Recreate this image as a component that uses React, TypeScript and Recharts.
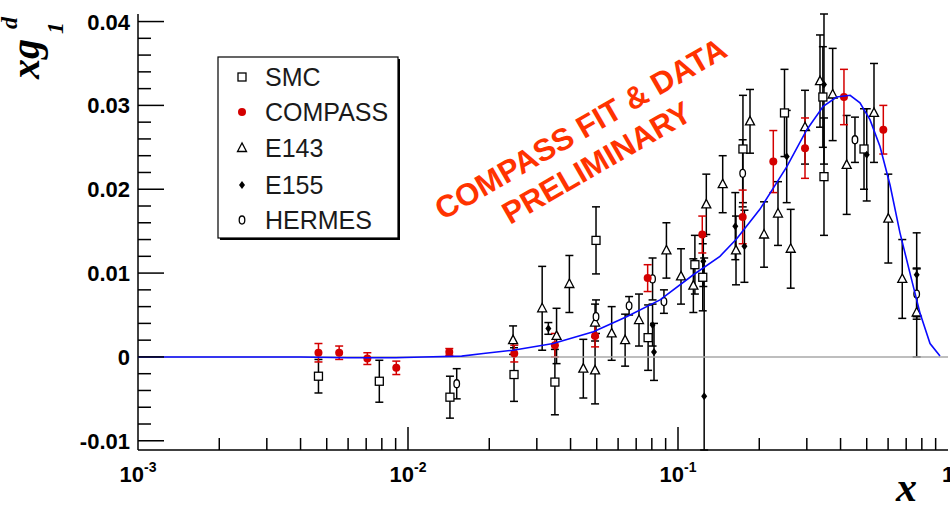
import React from 'react';
import { ScatterChart, Scatter, XAxis, YAxis, ErrorBar } from 'recharts';

// ---------- axes ----------
const X_DOMAIN: [number, number] = [0.001, 1];
const Y_DOMAIN: [number, number] = [-0.0111, 0.0409];
const X_MAJOR_TICKS = [0.001, 0.01, 0.1, 1];
const X_TICK_BASE = ['10', '10', '10', '1'];
const X_TICK_EXP = ['-3', '-2', '-1', ''];
const X_MINOR_TICKS = [
  0.002, 0.003, 0.004, 0.005, 0.006, 0.007, 0.008, 0.009,
  0.02, 0.03, 0.04, 0.05, 0.06, 0.07, 0.08, 0.09,
  0.2, 0.3, 0.4, 0.5, 0.6, 0.7, 0.8, 0.9,
];
const Y_MAJOR_TICKS = [-0.01, 0, 0.01, 0.02, 0.03, 0.04];
const Y_TICK_LABELS = ['-0.01', '0', '0.01', '0.02', '0.03', '0.04'];
const Y_MINOR_TICKS = [
  -0.008, -0.006, -0.004, -0.002,
  0.002, 0.004, 0.006, 0.008,
  0.012, 0.014, 0.016, 0.018,
  0.022, 0.024, 0.026, 0.028,
  0.032, 0.034, 0.036, 0.038,
];

// ---------- data: [x, xg1d, error (lower), error upper if different] ----------
const SMC = [
  [0.00466, -0.0023, 0.002],
  [0.00783, -0.0029, 0.0025],
  [0.0143, -0.0048, 0.0025],
  [0.0247, -0.0021, 0.0032],
  [0.035, -0.003, 0.0039],
  [0.0497, 0.0139, 0.004],
  [0.0775, 0.0023, 0.0039],
  [0.1155, 0.011, 0.0035],
  [0.1235, 0.0095, 0.004],
  [0.174, 0.0248, 0.0064],
  [0.248, 0.0291, 0.0052],
  [0.344, 0.031, 0.006],
  [0.3473, 0.0215, 0.007],
  [0.4886, 0.0248, 0.0048],
];

const COMPASS = [
  [0.00466, 0.0005, 0.0011],
  [0.00556, 0.0005, 0.0008],
  [0.00707, -0.0002, 0.0007],
  [0.00905, -0.0013, 0.0008],
  [0.01422, 0.0006, 0.0004],
  [0.02475, 0.0004, 0.001],
  [0.035, 0.0014, 0.0014],
  [0.0493, 0.0025, 0.0013],
  [0.0772, 0.0094, 0.0016],
  [0.123, 0.0146, 0.0022],
  [0.1736, 0.0167, 0.0032],
  [0.2254, 0.0233, 0.0037],
  [0.2954, 0.0249, 0.0036],
  [0.4118, 0.031, 0.0033],
  [0.576, 0.0271, 0.0029],
];

const E143 = [
  [0.0245, 0.002, 0.0017],
  [0.0314, 0.0058, 0.005],
  [0.0355, 0.0025, 0.0033],
  [0.0396, 0.0087, 0.0034],
  [0.0446, -0.0014, 0.0035],
  [0.0493, -0.0016, 0.004],
  [0.0493, 0.0041, 0.0022],
  [0.0568, 0.0028, 0.0032],
  [0.0637, 0.002, 0.0031],
  [0.0717, 0.0044, 0.0031],
  [0.0906, 0.0127, 0.0033],
  [0.1026, 0.0096, 0.0033],
  [0.114, 0.0085, 0.0032],
  [0.1273, 0.0182, 0.0036],
  [0.1464, 0.0206, 0.0034],
  [0.164, 0.0127, 0.0041],
  [0.1848, 0.0281, 0.0038],
  [0.2083, 0.0146, 0.0039],
  [0.2346, 0.0171, 0.0038],
  [0.2615, 0.0129, 0.0047],
  [0.2954, 0.0274, 0.0044],
  [0.3357, 0.0329, 0.0055],
  [0.374, 0.0313, 0.0055],
  [0.4215, 0.0229, 0.0059],
  [0.532, 0.0291, 0.0059],
  [0.601, 0.0165, 0.0053],
  [0.677, 0.0093, 0.0047],
  [0.7656, 0.0053, 0.0053],
];

const E155 = [
  [0.0331, 0.0034, 0.0007],
  [0.0815, 0.0006, 0.0034],
  [0.0805, 0.0038, 0.0025],
  [0.125, -0.0047, 0.0064, 0.0165],
  [0.1241, 0.0114, 0.003],
  [0.163, 0.0156, 0.004],
  [0.1762, 0.0132, 0.0043],
  [0.2527, 0.0239, 0.0055],
  [0.3473, 0.0325, 0.0095, 0.0084],
  [0.5, 0.0241, 0.0055],
  [0.7656, 0.0098, 0.005],
];

const HERMES = [
  [0.01515, -0.0032, 0.0018],
  [0.0497, 0.0048, 0.002],
  [0.0659, 0.0061, 0.0011],
  [0.0805, 0.0093, 0.0025],
  [0.0887, 0.0066, 0.0014],
  [0.1736, 0.0219, 0.004],
  [0.4523, 0.0259, 0.0027],
  [0.7656, 0.0075, 0.003],
];

// fit curve: [x, xg1d]
const FIT = [
  [0.001, 0], [0.002, 0], [0.004, 0], [0.006, -0.0001], [0.009, -0.0001],
  [0.0114, 0], [0.0158, 0.0001], [0.019, 0.0004], [0.0245, 0.0008],
  [0.0345, 0.0016], [0.0486, 0.003], [0.0645, 0.0048], [0.0858, 0.0068],
  [0.114, 0.0098], [0.143, 0.012], [0.165, 0.0141], [0.201, 0.0176],
  [0.253, 0.0227], [0.3, 0.0271], [0.345, 0.0299], [0.387, 0.031],
  [0.434, 0.0312], [0.472, 0.0303], [0.514, 0.0283], [0.56, 0.0251],
  [0.61, 0.0205], [0.664, 0.0148], [0.723, 0.01], [0.788, 0.0052],
  [0.858, 0.0016], [0.934, 0.0001],
];
const ZERO_LINE = [[0.001, 0], [1, 0]];

const LEGEND_NAMES = ['SMC', 'COMPASS', 'E143', 'E155', 'HERMES'];

const toRows = (arr: number[][]) =>
  arr.map(([x, y, lo, hi]) => ({
    x,
    y,
    e: hi !== undefined ? [lo, hi] : lo ?? 0,
  }));

// ---------- markers ----------
const SquareM = ({ cx, cy }: any) => (
  <rect x={cx - 4} y={cy - 4} width={8} height={8} fill="#fff" stroke="#000" strokeWidth={1.3} />
);
const CircleM = ({ cx, cy }: any) => <circle cx={cx} cy={cy} r={4} fill="#d40000" />;
const TriM = ({ cx, cy }: any) => (
  <polygon
    points={`${cx},${cy - 5} ${cx - 4.5},${cy + 3.5} ${cx + 4.5},${cy + 3.5}`}
    fill="#fff"
    stroke="#000"
    strokeWidth={1.3}
  />
);
const DiamondM = ({ cx, cy }: any) => (
  <polygon points={`${cx},${cy - 4} ${cx + 3},${cy} ${cx},${cy + 4} ${cx - 3},${cy}`} fill="#000" />
);
const OvalM = ({ cx, cy }: any) => (
  <ellipse cx={cx} cy={cy} rx={2.8} ry={4} fill="#fff" stroke="#000" strokeWidth={1.3} />
);
const NoM = () => <g />;

const TICK_FONT = '"Liberation Sans", Arial, sans-serif';

const XTick = (props: any) => {
  const { x, y, payload } = props;
  const v = payload.value;
  const mi = X_MAJOR_TICKS.findIndex((t) => Math.abs(t - v) < 1e-9);
  const inner = mi === 1 || mi === 2;
  return (
    <g>
      {mi < 0 && <line x1={x} x2={x} y1={y} y2={y - 12} stroke="#000" strokeWidth={1.5} />}
      {inner && <line x1={x} x2={x} y1={y} y2={y - 23} stroke="#000" strokeWidth={1.5} />}
      {mi >= 0 && (
        <text x={x} y={y + 32} textAnchor="middle" fontFamily={TICK_FONT} fontWeight="bold" fontSize={22} fill="#000">
          {X_TICK_BASE[mi]}
          {X_TICK_EXP[mi] && (
            <tspan dy={-10} fontSize={14}>
              {X_TICK_EXP[mi]}
            </tspan>
          )}
        </text>
      )}
    </g>
  );
};

const YTick = (props: any) => {
  const { x, y, payload } = props;
  const v = payload.value;
  const mi = Y_MAJOR_TICKS.findIndex((t) => Math.abs(t - v) < 1e-9);
  return (
    <g>
      <line x1={x} x2={x + (mi >= 0 ? 26 : 13)} y1={y} y2={y} stroke="#000" strokeWidth={1.5} />
      {mi >= 0 && (
        <text x={x - 8} y={y + 8} textAnchor="end" fontFamily={TICK_FONT} fontWeight="bold" fontSize={22} fill="#000">
          {Y_TICK_LABELS[mi]}
        </text>
      )}
    </g>
  );
};

const legendMarker = (i: number, cx: number, cy: number) => {
  const M = [SquareM, CircleM, TriM, DiamondM, OvalM][i];
  return <M cx={cx} cy={cy} />;
};

export default function App() {
  const xTicks = [...X_MAJOR_TICKS, ...X_MINOR_TICKS].sort((a, b) => a - b);
  const yTicks = [...Y_MAJOR_TICKS, ...Y_MINOR_TICKS].sort((a, b) => a - b);
  const legendY = [77, 112, 148, 185, 220];
  return (
    <div style={{ position: 'absolute', left: 0, top: 0, width: 950, height: 508, background: '#fff' }}>
      <ScatterChart width={950} height={508} margin={{ top: 14, right: 2, bottom: 0, left: 0 }}>
        <XAxis
          dataKey="x"
          type="number"
          scale="log"
          domain={X_DOMAIN}
          allowDataOverflow
          ticks={xTicks}
          interval={0}
          tickSize={0}
          tickMargin={0}
          tickLine={false}
          tick={<XTick />}
          height={58}
          axisLine={{ stroke: '#000', strokeWidth: 1.5 }}
        />
        <XAxis
          xAxisId="top"
          orientation="top"
          type="number"
          scale="log"
          domain={X_DOMAIN}
          allowDataOverflow
          height={0}
          tick={false}
          tickLine={false}
          axisLine={{ stroke: '#000', strokeWidth: 1.5 }}
        />
        <YAxis
          dataKey="y"
          type="number"
          domain={Y_DOMAIN}
          allowDataOverflow
          ticks={yTicks}
          interval={0}
          tickSize={0}
          tickMargin={0}
          tickLine={false}
          tick={<YTick />}
          width={138}
          axisLine={{ stroke: '#000', strokeWidth: 1.5 }}
        />
        <YAxis
          yAxisId="right"
          orientation="right"
          type="number"
          domain={Y_DOMAIN}
          allowDataOverflow
          width={0}
          tick={false}
          tickLine={false}
          axisLine={{ stroke: '#000', strokeWidth: 1.5 }}
        />
        <Scatter
          data={toRows(ZERO_LINE)}
          line={{ stroke: '#a8a8a8', strokeWidth: 1.5 }}
          lineType="joint"
          shape={<NoM />}
          isAnimationActive={false}
        />
        <Scatter data={toRows(SMC)} shape={<SquareM />} isAnimationActive={false}>
          <ErrorBar dataKey="e" direction="y" width={4} stroke="#000" strokeWidth={1.5} />
        </Scatter>
        <Scatter data={toRows(E143)} shape={<TriM />} isAnimationActive={false}>
          <ErrorBar dataKey="e" direction="y" width={4} stroke="#000" strokeWidth={1.5} />
        </Scatter>
        <Scatter data={toRows(E155)} shape={<DiamondM />} isAnimationActive={false}>
          <ErrorBar dataKey="e" direction="y" width={4} stroke="#000" strokeWidth={1.5} />
        </Scatter>
        <Scatter data={toRows(HERMES)} shape={<OvalM />} isAnimationActive={false}>
          <ErrorBar dataKey="e" direction="y" width={4} stroke="#000" strokeWidth={1.5} />
        </Scatter>
        <Scatter data={toRows(COMPASS)} shape={<CircleM />} isAnimationActive={false}>
          <ErrorBar dataKey="e" direction="y" width={4} stroke="#d40000" strokeWidth={1.5} />
        </Scatter>
        <Scatter
          data={toRows(FIT)}
          line={{ stroke: '#0a0aff', strokeWidth: 1.6 }}
          lineType="joint"
          shape={<NoM />}
          isAnimationActive={false}
        />
      </ScatterChart>
      <svg
        width={950}
        height={508}
        style={{ position: 'absolute', left: 0, top: 0, pointerEvents: 'none' }}
      >
        {/* legend */}
        <rect x={220} y={59} width={180} height={181} fill="#000" />
        <rect x={218} y={57} width={180} height={181} fill="#fff" stroke="#000" strokeWidth={1.2} />
        {LEGEND_NAMES.map((n, i) => (
          <g key={n}>
            {legendMarker(i, 242, legendY[i])}
            <text x={265} y={legendY[i] + 9} fontFamily={TICK_FONT} fontSize={25} fill="#1a1a1a">
              {n}
            </text>
          </g>
        ))}
        {/* annotation */}
        <g fontFamily={TICK_FONT} fontWeight="bold" fontSize={31} fill="#ff3300" textAnchor="middle">
          <text transform="translate(586,138) rotate(-30)">COMPASS FIT &amp; DATA</text>
          <text transform="translate(602,172) rotate(-30)">PRELIMINARY</text>
        </g>
        {/* y title */}
        <g
          transform="translate(39,79) rotate(-90)"
          fontFamily='"Liberation Serif", "Times New Roman", serif'
          fontStyle="italic"
          fontWeight="bold"
          fill="#000"
        >
          <text x={0} y={0} fontSize={40}>xg</text>
          <text x={45} y={24} fontSize={24}>1</text>
          <text x={50} y={-22} fontSize={24}>d</text>
        </g>
        {/* x title */}
        <text
          x={896}
          y={501}
          fontFamily='"Liberation Serif", "Times New Roman", serif'
          fontStyle="italic"
          fontWeight="bold"
          fontSize={42}
          fill="#000"
        >
          x
        </text>
      </svg>
    </div>
  );
}
